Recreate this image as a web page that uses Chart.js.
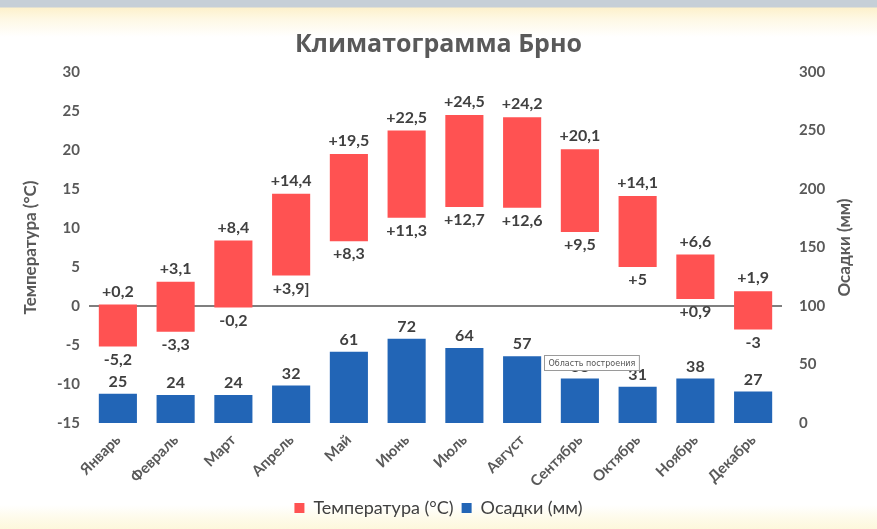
<!DOCTYPE html>
<html lang="ru">
<head>
<meta charset="utf-8">
<title>Климатограмма Брно</title>
<script src="https://cdn.jsdelivr.net/npm/chart.js@4/dist/chart.umd.min.js"></script>
<style>
  html, body { margin: 0; padding: 0; }
  body {
    width: 877px; height: 529px; overflow: hidden;
    background:
      linear-gradient(to bottom, #c6cfd7 0px, #c6cfd7 7px, #fdf1cc 8px, #fef8e4 19px, #ffffff 37px, #ffffff 505px, #fefbea 518px, #fdf8dc 529px);
  }
  #wrap { position: relative; width: 877px; height: 529px; }
</style>
</head>
<body>
<div id="wrap"><canvas id="chart" width="877" height="529"></canvas></div>
<script>
// Климатические данные для Брно
const months = ['Январь', 'Февраль', 'Март', 'Апрель', 'Май', 'Июнь', 'Июль', 'Август', 'Сентябрь', 'Октябрь', 'Ноябрь', 'Декабрь'];
const tempMax = [0.2, 3.1, 8.4, 14.4, 19.5, 22.5, 24.5, 24.2, 20.1, 14.1, 6.6, 1.9];
const tempMin = [-5.2, -3.3, -0.2, 3.9, 8.3, 11.3, 12.7, 12.6, 9.5, 5, 0.9, -3];
const precipitation = [25, 24, 24, 32, 61, 72, 64, 57, 38, 31, 38, 27];
const minLabelSuffix = ['', '', '', ']', '', '', '', '', '', '', '', ''];

const RED = '#ff5252';
const BLUE = '#2265b6';
const TEXT = '#595959';
const LABEL = '#404040';
const FONT = 'Lato, "Open Sans", sans-serif';
const TITLE_FONT = '"Open Sans", Lato, sans-serif';

function fmtTemp(v) {
  const s = (Math.round(v * 10) / 10).toString().replace('.', ',');
  return v > 0 ? '+' + s : s;
}

// Подписи значений над и под столбцами
const valueLabels = {
  id: 'valueLabels',
  afterDatasetsDraw(chart) {
    const ctx = chart.ctx;
    ctx.save();
    ctx.font = 'bold 16px ' + FONT;
    ctx.fillStyle = LABEL;
    ctx.textAlign = 'center';
    ctx.textBaseline = 'middle';
    chart.getDatasetMeta(0).data.forEach((bar, i) => {
      const p = bar.getProps(['x', 'y', 'base'], true);
      const top = Math.min(p.y, p.base);
      const bottom = Math.max(p.y, p.base);
      ctx.fillText(fmtTemp(tempMax[i]), p.x, top - 13);
      ctx.fillText(fmtTemp(tempMin[i]) + minLabelSuffix[i], p.x, bottom + 13);
    });
    chart.getDatasetMeta(1).data.forEach((bar, i) => {
      const p = bar.getProps(['x', 'y'], true);
      ctx.fillText(String(precipitation[i]), p.x, p.y - 12);
    });
    ctx.restore();
  }
};

// Заголовок правой оси, читается снизу вверх
const rightAxisTitle = {
  id: 'rightAxisTitle',
  afterDraw(chart) {
    const ctx = chart.ctx;
    const area = chart.chartArea;
    ctx.save();
    ctx.translate(845, (area.top + area.bottom) / 2);
    ctx.rotate(-Math.PI / 2);
    ctx.font = 'bold 17px ' + FONT;
    ctx.fillStyle = TEXT;
    ctx.textAlign = 'center';
    ctx.textBaseline = 'middle';
    ctx.fillText('Осадки (мм)', 0, 0);
    ctx.restore();
  }
};

// Всплывающая подсказка Excel над областью построения
const areaHint = {
  id: 'areaHint',
  afterDraw(chart) {
    const ctx = chart.ctx;
    const bar = chart.getDatasetMeta(1).data[8];
    const x = Math.round(bar.x) - 35.5, y = 355.5;
    ctx.save();
    ctx.font = '8px "DejaVu Sans", sans-serif';
    const w = ctx.measureText('Область построения').width + 8;
    ctx.fillStyle = '#ffffff';
    ctx.fillRect(x, y, w, 15);
    ctx.strokeStyle = '#9a9a9a';
    ctx.lineWidth = 1;
    ctx.strokeRect(x, y, w, 15);
    ctx.fillStyle = '#555555';
    ctx.textBaseline = 'middle';
    ctx.fillText('Область построения', x + 4, y + 8);
    ctx.restore();
  }
};

new Chart(document.getElementById('chart'), {
  type: 'bar',
  data: {
    labels: months,
    datasets: [
      {
        label: 'Температура (°C)',
        data: tempMin.map((lo, i) => [lo, tempMax[i]]),
        backgroundColor: RED,
        yAxisID: 'y',
        grouped: false
      },
      {
        label: 'Осадки (мм)',
        data: precipitation,
        backgroundColor: BLUE,
        yAxisID: 'y1',
        grouped: false
      }
    ]
  },
  options: {
    responsive: false,
    animation: false,
    devicePixelRatio: 1,
    layout: { padding: { top: 0, bottom: 2, left: 0, right: 0 } },
    datasets: { bar: { barPercentage: 0.66, categoryPercentage: 1.0 } },
    plugins: {
      tooltip: { enabled: false },
      title: {
        display: true,
        text: 'Климатограмма Брно',
        color: TEXT,
        font: { family: TITLE_FONT, size: 25, weight: 'bold' },
        padding: { top: 30, bottom: 12 }
      },
      legend: {
        display: true,
        position: 'bottom',
        labels: {
          color: LABEL,
          font: { family: FONT, size: 18 },
          boxWidth: 10,
          boxHeight: 10,
          padding: 8
        }
      }
    },
    scales: {
      x: {
        grid: { display: false },
        border: { display: false },
        ticks: {
          color: TEXT,
          font: { family: FONT, size: 15, weight: 'bold' },
          minRotation: 45,
          maxRotation: 45,
          padding: 0
        },
        afterFit(scale) { scale.height = 68; }
      },
      y: {
        position: 'left',
        min: -15,
        max: 30,
        ticks: {
          stepSize: 5,
          color: TEXT,
          font: { family: FONT, size: 15, weight: 'bold' },
          padding: 9
        },
        grid: {
          drawTicks: false,
          color: ctx => ctx.tick && ctx.tick.value === 0 ? '#7f7f7f' : 'rgba(0,0,0,0)',
          lineWidth: 2
        },
        border: { display: false },
        title: {
          display: true,
          text: 'Температура (°C)',
          color: TEXT,
          font: { family: FONT, size: 17, weight: 'bold' },
          padding: { top: 20, bottom: 0 }
        },
        afterFit(scale) { scale.width = 89; }
      },
      y1: {
        position: 'right',
        min: 0,
        max: 300,
        ticks: {
          stepSize: 50,
          color: TEXT,
          font: { family: FONT, size: 15, weight: 'bold' },
          padding: 17
        },
        grid: { display: false, drawTicks: false },
        border: { display: false },
        afterFit(scale) { scale.width = 95; }
      }
    }
  },
  plugins: [valueLabels, rightAxisTitle, areaHint]
});
</script>
</body>
</html>
